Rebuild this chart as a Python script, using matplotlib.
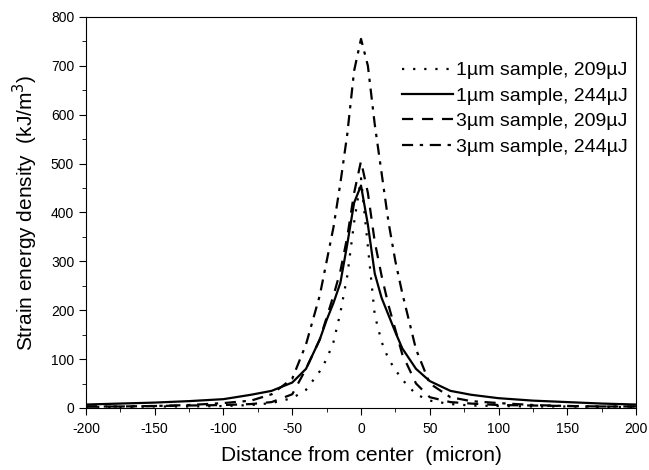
import matplotlib
matplotlib.use("Agg")
import matplotlib.pyplot as plt
from matplotlib.ticker import MultipleLocator

plt.rcParams["font.family"] = ["Liberation Sans", "DejaVu Sans"]
plt.rcParams["axes.unicode_minus"] = False

# distance from center (micron)
x = [-200, -175, -150, -125, -100, -80, -65, -50, -40, -30, -25, -20, -15, -10, -5,
     0, 5, 10, 15, 20, 25, 30, 40, 50, 65, 80, 100, 125, 150, 175, 200]

# strain energy density (kJ/m^3)
s1_209 = [2, 2, 3, 3, 4, 6, 10, 20, 37, 75, 100, 135, 195, 270, 380,
          470, 330, 190, 135, 100, 78, 58, 28, 15, 8, 5, 4, 3, 3, 2, 2]
s1_244 = [7, 9, 11, 14, 18, 27, 35, 52, 80, 140, 180, 215, 256, 335, 420,
          455, 375, 275, 225, 190, 155, 122, 80, 55, 35, 27, 20, 15, 12, 9, 7]
s3_209 = [3, 3, 4, 5, 6, 8, 12, 28, 80, 140, 185, 230, 280, 350, 440,
          505, 440, 340, 270, 210, 160, 110, 50, 22, 12, 9, 6, 5, 4, 3, 3]
s3_244 = [3, 3, 4, 6, 10, 15, 28, 60, 130, 230, 300, 370, 460, 560, 690,
          755, 700, 580, 480, 380, 300, 235, 120, 50, 22, 14, 10, 6, 4, 3, 3]

labels = ["1\u00b5m sample, 209\u00b5J", "1\u00b5m sample, 244\u00b5J",
          "3\u00b5m sample, 209\u00b5J", "3\u00b5m sample, 244\u00b5J"]


def main():
    fig = plt.figure(figsize=(6.49, 4.70), dpi=100)
    ax = fig.add_axes([0.1325, 0.132, 0.8475, 0.832])

    ax.plot(x, s1_209, color="black", lw=1.6, linestyle=(0, (1, 4)), label=labels[0])
    ax.plot(x, s1_244, color="black", lw=1.6, linestyle="-", label=labels[1])
    ax.plot(x, s3_209, color="black", lw=1.6, linestyle=(0, (5, 4)), label=labels[2])
    ax.plot(x, s3_244, color="black", lw=1.6, linestyle=(0, (5, 3, 1.5, 3)), label=labels[3])

    ax.set_xlim(-200, 200)
    ax.set_ylim(0, 800)
    ax.xaxis.set_major_locator(MultipleLocator(50))
    ax.xaxis.set_minor_locator(MultipleLocator(25))
    ax.yaxis.set_major_locator(MultipleLocator(100))
    ax.yaxis.set_minor_locator(MultipleLocator(50))
    ax.tick_params(which="major", direction="out", length=5, labelsize=10)
    ax.tick_params(axis="x", which="major", pad=5)
    ax.tick_params(which="minor", direction="out", length=3)

    ax.set_xlabel("Distance from center  (micron)", fontsize=15, labelpad=7)
    ax.set_ylabel("Strain energy density  (kJ/m$^3$)", fontsize=15, labelpad=8)

    ax.legend(loc="upper right", bbox_to_anchor=(1.0, 0.905), frameon=False,
              fontsize=14, handlelength=2.6, handletextpad=0.2, labelspacing=0.4,
              borderaxespad=0)

    fig.savefig("out.png", dpi=100)


if __name__ == "__main__":
    main()
